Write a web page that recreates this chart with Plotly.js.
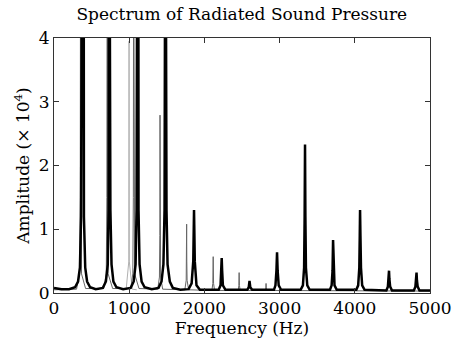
<!DOCTYPE html>
<html>
<head>
<meta charset="utf-8">
<script src="https://cdn.plot.ly/plotly-3.0.1.min.js"></script>
<style>html,body{margin:0;padding:0;background:#fff;}#chart{width:452px;height:339px;}</style>
</head>
<body>
<div id="chart"></div>
<script>
// Main (black) spectrum, frequency in Hz, amplitude in units of 10^4
const freqMain = [0,100,200,280,320,345,360,370,379,388,398,415,440,480,555,
  650,690,715,725,731,735,741,750,765,790,830,920,
  1020,1060,1085,1098,1105,1110,1116,1124,1138,1165,1205,1300,
  1390,1430,1455,1470,1477,1482,1488,1496,1510,1540,1580,1680,
  1790,1830,1852,1858,1862,1866,1872,1895,1940,
  2190,2215,2224,2230,2236,2246,2280,
  2570,2590,2600,2610,2635,
  2925,2945,2958,2966,2974,2988,3020,
  3280,3310,3326,3333,3338,3343,3350,3368,3400,
  3670,3692,3704,3711,3718,3730,3760,
  4020,4045,4060,4066,4070,4075,4082,4098,4130,
  4420,4440,4450,4455,4460,4470,4495,
  4785,4806,4816,4821,4826,4836,4860,5000];
const ampMain = [0.08,0.06,0.06,0.09,0.18,0.4,1.2,5,30,5,1.2,0.4,0.18,0.09,0.06,
  0.08,0.18,0.45,1.3,5,30,5,1.3,0.45,0.18,0.09,0.06,
  0.08,0.18,0.45,1.3,5,30,5,1.3,0.45,0.18,0.09,0.06,
  0.08,0.18,0.45,1.3,5,30,5,1.3,0.45,0.18,0.08,0.05,
  0.06,0.15,0.5,1.0,1.3,1.0,0.5,0.12,0.05,
  0.05,0.12,0.35,0.55,0.35,0.12,0.05,
  0.05,0.09,0.19,0.09,0.05,
  0.05,0.12,0.35,0.64,0.35,0.12,0.05,
  0.05,0.12,0.4,1.2,2.33,1.2,0.4,0.12,0.05,
  0.05,0.12,0.35,0.83,0.35,0.12,0.05,
  0.05,0.12,0.4,0.9,1.3,0.9,0.4,0.12,0.05,
  0.04,0.1,0.22,0.35,0.22,0.1,0.04,
  0.04,0.1,0.2,0.32,0.2,0.1,0.04,0.04];

// Secondary (grey) spectrum
const freqSec = [0,300,340,349,353,357,366,420,660,695,703,707,711,720,780,
  1020,1048,1055,1059,1063,1072,1130,1380,1402,1407,1410,1413,1418,1445,
  1740,1758,1762,1764,1766,1770,1790,2100,2112,2117,2122,2135,
  2450,2458,2462,2466,2475,2810,2817,2820,2823,2830,5000];
const ampSec = [0.05,0.06,0.3,1.5,6,1.5,0.3,0.07,0.07,0.3,1.5,6,1.5,0.3,0.07,
  0.07,0.3,1.5,6,1.5,0.3,0.07,0.06,0.25,0.9,2.79,0.9,0.25,0.06,
  0.05,0.2,0.5,1.08,0.5,0.2,0.05,0.04,0.15,0.57,0.15,0.04,
  0.04,0.12,0.32,0.12,0.04,0.04,0.08,0.15,0.08,0.04,0.03];

// Faint third spectrum line
const freqThird = [900,960,995,998,1001,1040,1100];
const ampThird = [0.05,0.06,0.5,3.95,0.5,0.06,0.05];

const xTicks = [0,1000,2000,3000,4000,5000];
const yTicks = [0,1,2,3,4];

const fontFam = '"DejaVu Serif", "Liberation Serif", serif';

const traces = [
  {x: freqThird, y: ampThird, type: 'scatter', mode: 'lines', line: {color: '#b0b0b0', width: 1}, hoverinfo: 'skip'},
  {x: freqSec, y: ampSec, type: 'scatter', mode: 'lines', line: {color: '#666666', width: 1}, hoverinfo: 'skip'},
  {x: freqMain, y: ampMain, type: 'scatter', mode: 'lines', line: {color: '#000000', width: 2.5}, hoverinfo: 'skip'}
];

const layout = {
  width: 452, height: 339,
  margin: {l: 54, r: 22, t: 38, b: 46, pad: 0},
  paper_bgcolor: '#fff', plot_bgcolor: '#fff',
  showlegend: false,
  font: {family: fontFam, color: '#000', size: 17},
  title: {text: 'Spectrum of Radiated Sound Pressure', font: {family: fontFam, size: 17, color: '#000'}, x: 0.535, xanchor: 'center', y: 0.96, yanchor: 'middle'},
  xaxis: {
    range: [0, 5000], tickvals: xTicks, ticktext: xTicks.map(String),
    ticks: 'inside', ticklen: 5, tickcolor: '#333', mirror: 'ticks', showline: true, linecolor: '#333', linewidth: 1,
    showgrid: false, zeroline: false, tickfont: {size: 17}, title: {text: 'Frequency (Hz)', font: {size: 17}, standoff: 0}
  },
  yaxis: {
    range: [0, 4], tickvals: yTicks, ticktext: yTicks.map(String),
    ticks: 'inside', ticklen: 5, tickcolor: '#333', mirror: 'ticks', showline: true, linecolor: '#333', linewidth: 1,
    showgrid: false, zeroline: false, tickfont: {size: 17}, title: {text: 'Amplitude (× 10<sup>4</sup>)', font: {size: 17}, standoff: 4}
  }
};

Plotly.newPlot('chart', traces, layout, {staticPlot: true, displayModeBar: false});
</script>
</body>
</html>
